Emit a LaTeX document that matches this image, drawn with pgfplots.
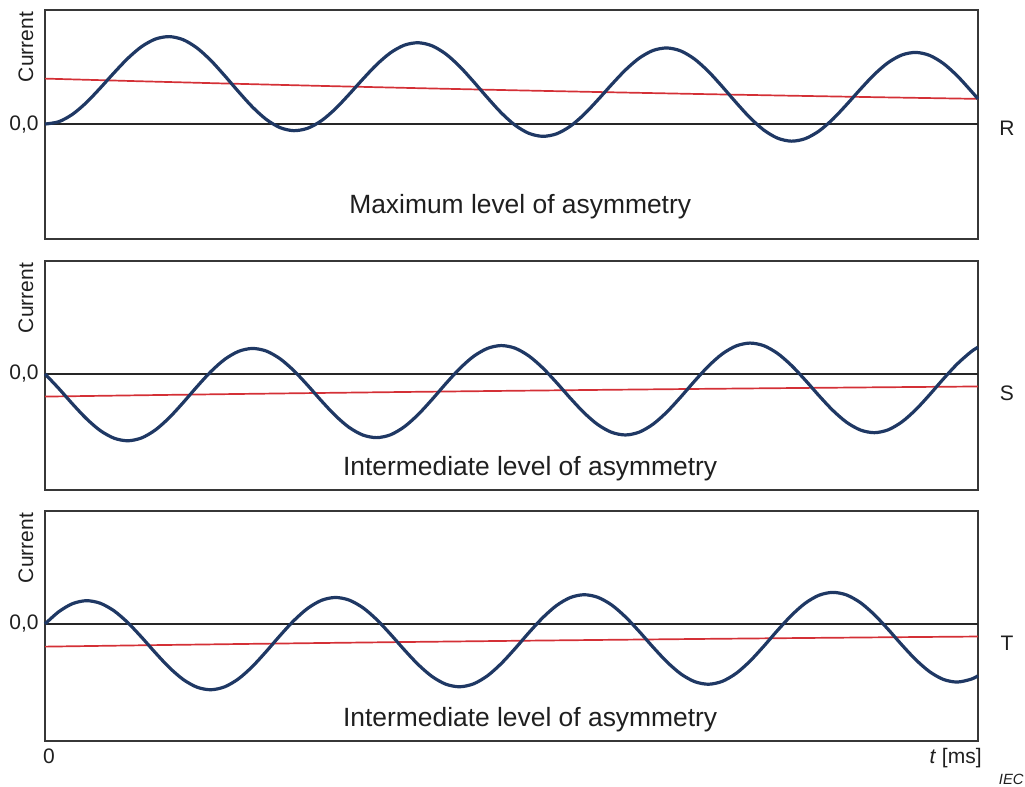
\documentclass[border=0pt]{standalone}
\usepackage{pgfplots}
\pgfplotsset{compat=1.18}
\usepackage{pgfplotstable}
\usepackage{fontspec}
\setmainfont{Liberation Sans}

\definecolor{wave}{RGB}{31,56,100}
\definecolor{dcline}{RGB}{212,48,54}
\definecolor{boxline}{RGB}{55,55,55}

% Phase currents R, S, T (per unit of the a.c. amplitude), t in ms
\pgfplotstableread{
t iR iS iT
0.00 0.0000 0.0000 0.0000
1.11 0.0516 -0.3221 0.2703
2.22 0.2167 -0.6650 0.4483
3.33 0.4741 -0.9871 0.5129
4.44 0.7920 -1.2488 0.4569
5.56 1.1308 -1.4183 0.2874
6.67 1.4489 -1.4745 0.0255
7.78 1.7066 -1.4100 -0.2967
8.89 1.8721 -1.2322 -0.6398
10.00 1.9243 -0.9622 -0.9622
11.11 1.8559 -0.6317 -1.2241
12.22 1.6742 -0.2805 -1.3938
13.33 1.4003 0.0498 -1.4502
14.44 1.0661 0.3197 -1.3860
15.56 0.7111 0.4973 -1.2084
16.67 0.3770 0.5615 -0.9385
17.78 0.1034 0.5050 -0.6083
18.89 -0.0779 0.3351 -0.2573
20.00 -0.1457 0.0728 0.0728
21.11 -0.0929 -0.2498 0.3426
22.22 0.0735 -0.5934 0.5199
23.33 0.3322 -0.9161 0.5839
24.44 0.6513 -1.1785 0.5272
25.56 0.9913 -1.3486 0.3571
26.67 1.3106 -1.4053 0.0947
27.78 1.5696 -1.3415 -0.2282
28.89 1.7363 -1.1643 -0.5719
30.00 1.7896 -0.8948 -0.8948
31.11 1.7225 -0.5650 -1.1574
32.22 1.5420 -0.2144 -1.3277
33.33 1.2692 0.1154 -1.3846
34.44 0.9361 0.3847 -1.3210
35.56 0.5823 0.5617 -1.1440
36.67 0.2493 0.6253 -0.8747
37.78 -0.0232 0.5683 -0.5450
38.89 -0.2034 0.3978 -0.1946
40.00 -0.2701 0.1350 0.1350
41.11 -0.2162 -0.1882 0.4042
42.22 -0.0488 -0.5322 0.5811
43.33 0.2110 -0.8555 0.6445
44.44 0.5311 -1.1184 0.5873
45.56 0.8722 -1.2890 0.4167
46.67 1.1925 -1.3463 0.1537
47.78 1.4525 -1.2830 -0.1697
48.89 1.6202 -1.1063 -0.5139
50.00 1.6746 -0.8373 -0.8373
51.11 1.6084 -0.5080 -1.1004
52.22 1.4289 -0.1579 -1.2712
53.33 1.1571 0.1714 -1.3286
54.44 0.8250 0.4403 -1.2654
55.56 0.4721 0.6168 -1.0889
56.67 0.1401 0.6799 -0.8201
57.78 -0.1315 0.6224 -0.4909
58.89 -0.3107 0.4515 -0.1409
60.00 -0.3765 0.1882 0.1882
61.11 -0.3216 -0.1355 0.4569
62.22 -0.1533 -0.4800 0.6333
63.33 0.1074 -0.8037 0.6963
64.44 0.4285 -1.0671 0.6386
65.56 0.7705 -1.2382 0.4675
66.67 1.0917 -1.2959 0.2041
67.78 1.3525 -1.2330 -0.1197
68.89 1.5211 -1.0567 -0.4643
70.00 1.5763 -0.7882 -0.7882
71.11 1.5110 -0.4593 -1.0517
72.22 1.3323 -0.1096 -1.2229
73.33 1.0614 0.2193 -1.2807
74.44 0.7301 0.4877 -1.2180
75.00 0.5541 0.5889 -1.1431
}\currents

% Decaying d.c. components (phase S and T share the same offset)
\pgfplotstableread{
t dR dST
0.0 1.0000 -0.5000
7.5 0.9427 -0.4714
15.0 0.8886 -0.4443
22.5 0.8376 -0.4188
30.0 0.7896 -0.3948
37.5 0.7443 -0.3722
45.0 0.7017 -0.3509
52.5 0.6614 -0.3307
60.0 0.6235 -0.3118
67.5 0.5877 -0.2939
75.0 0.5540 -0.2770
}\offsets

\pgfplotsset{
  panel/.style={
    scale only axis, width=466.5pt, height=114.5pt,
    xmin=0, xmax=75, ticks=none, clip=false,
    axis line style={boxline, line width=0.75pt},
  },
  zeroline/.style={black!85, line width=0.7pt, forget plot},
  dcplot/.style={dcline, line width=0.85pt},
  waveplot/.style={wave, line width=1.6pt, line join=round, smooth},
}

\newcommand{\lbl}{\fontsize{10.5}{12}\selectfont}
\newcommand{\ttl}{\fontsize{13.2}{15}\selectfont}

\begin{document}
\begin{tikzpicture}[every node/.style={text=black!88}]
% ---------- phase R ----------
\begin{axis}[panel, name=pR, at={(0pt,0pt)}, anchor=north west,
  ymin=-2.53, ymax=2.51]
  \addplot[zeroline] coordinates {(0,0) (75,0)};
  \addplot[dcplot] table[x=t, y=dR] {\offsets};
  \addplot[waveplot] table[x=t, y=iR] {\currents};
  \node[rotate=90, font=\lbl] at ([xshift=-9.5pt, yshift=-18.5pt]rel axis cs:0,1) {Current};
  \node[anchor=east, font=\lbl, inner sep=0pt] at ([xshift=-3pt]axis cs:0,0) {0,0};
  \node[font=\lbl, inner sep=0pt] at ([xshift=14.5pt]axis cs:75,-0.1) {R};
  \node[anchor=base, font=\ttl, inner sep=0pt] at (axis cs:38.2,-1.96) {Maximum level of asymmetry};
\end{axis}
% ---------- phase S ----------
\begin{axis}[panel, name=pS, at={(0pt,-125.5pt)}, anchor=north west,
  ymin=-2.56, ymax=2.49]
  \addplot[zeroline] coordinates {(0,0) (75,0)};
  \addplot[dcplot] table[x=t, y=dST] {\offsets};
  \addplot[waveplot] table[x=t, y=iS] {\currents};
  \node[rotate=90, font=\lbl] at ([xshift=-9.5pt, yshift=-18.5pt]rel axis cs:0,1) {Current};
  \node[anchor=east, font=\lbl, inner sep=0pt] at ([xshift=-3pt]axis cs:0,0) {0,0};
  \node[font=\lbl, inner sep=0pt] at ([xshift=14.5pt]axis cs:75,-0.42) {S};
  \node[anchor=base, font=\ttl, inner sep=0pt] at (axis cs:39.0,-2.25) {Intermediate level of asymmetry};
\end{axis}
% ---------- phase T ----------
\begin{axis}[panel, name=pT, at={(0pt,-250.5pt)}, anchor=north west,
  height=115pt, ymin=-2.58, ymax=2.49]
  \addplot[zeroline] coordinates {(0,0) (75,0)};
  \addplot[dcplot] table[x=t, y=dST] {\offsets};
  \addplot[waveplot] table[x=t, y=iT] {\currents};
  \node[rotate=90, font=\lbl] at ([xshift=-9.5pt, yshift=-18.5pt]rel axis cs:0,1) {Current};
  \node[anchor=east, font=\lbl, inner sep=0pt] at ([xshift=-3pt]axis cs:0,0) {0,0};
  \node[font=\lbl, inner sep=0pt] at ([xshift=14.5pt]axis cs:75,-0.42) {T};
  \node[anchor=base, font=\ttl, inner sep=0pt] at (axis cs:39.0,-2.27) {Intermediate level of asymmetry};
  \node[anchor=north, font=\lbl, inner sep=0pt] at ([xshift=2pt, yshift=-3.5pt]rel axis cs:0,0) {0};
  \node[anchor=base east, font=\lbl, inner sep=0pt] at ([xshift=2pt, yshift=-11pt]rel axis cs:1,0) {\textit{t} [ms]};
  \node[anchor=base east, font=\fontsize{7.4}{8}\selectfont\itshape, inner sep=0pt] at ([xshift=23pt, yshift=-21.5pt]rel axis cs:1,0) {IEC};
\end{axis}
\pgfresetboundingbox
\path[use as bounding box] (-22.5pt,5pt) rectangle (490pt,-388.5pt);
\end{tikzpicture}
\end{document}
